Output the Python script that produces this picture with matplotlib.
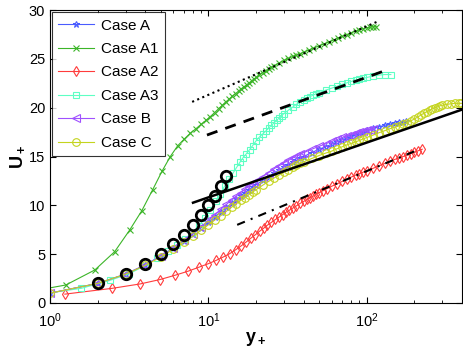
import numpy as np
import matplotlib
matplotlib.use('Agg')
import matplotlib.pyplot as plt

plt.rcParams['font.family'] = ['Liberation Sans', 'DejaVu Sans']
plt.rcParams['mathtext.fontset'] = 'custom'
plt.rcParams['mathtext.rm'] = 'Liberation Sans'
plt.rcParams['mathtext.bf'] = 'Liberation Sans:bold'

# ---- data ----
yA = [1, 2, 3, 4, 5, 6, 7, 8, 9, 10, 11, 12, 13, 14, 15, 16, 17, 18, 19, 20,
      22, 24, 26, 28, 30, 32, 34, 36, 38, 40,
      45, 50, 55, 60, 65, 70, 75, 80, 85, 90, 95, 100,
      110, 120, 130, 140, 150, 160, 170, 178]
uA = [1.0, 2.0, 2.95, 3.9, 4.8, 5.6, 6.35, 7.05, 7.7, 8.3, 8.85, 9.35, 9.8, 10.2, 10.6, 10.95, 11.3, 11.6, 11.85, 12.1,
      12.55, 12.95, 13.3, 13.6, 13.9, 14.15, 14.4, 14.6, 14.8, 15.0,
      15.4, 15.75, 16.0, 16.25, 16.5, 16.7, 16.9, 17.1, 17.25, 17.4, 17.55, 17.7,
      17.9, 18.05, 18.2, 18.3, 18.4, 18.5, 18.55, 18.6]

yA1 = [0.63, 1.26, 1.92, 2.56, 3.18, 3.8, 4.45, 5.1, 5.75, 6.4, 7.05, 7.7, 8.35, 9.0, 9.65,
       10.3, 10.95, 11.6, 12.25, 12.9, 13.55, 14.2, 14.85, 15.5, 16.15, 16.8, 17.45, 18.1, 18.75, 19.4, 20.05,
       21, 22, 23, 24, 25, 26, 28, 30, 32, 34, 36, 38, 40, 43, 46, 50, 54, 58, 62, 66, 70,
       75, 80, 85, 90, 95, 100, 105, 110, 115]
uA1 = [0.95, 1.84, 3.38, 5.25, 7.45, 9.45, 11.6, 13.5, 15.0, 16.1, 16.8, 17.4, 17.85, 18.3, 18.7,
       19.1, 19.5, 19.9, 20.25, 20.6, 20.9, 21.2, 21.45, 21.7, 21.95, 22.15, 22.35, 22.55, 22.75, 22.95, 23.1,
       23.4, 23.6, 23.8, 24.0, 24.15, 24.3, 24.6, 24.85, 25.05, 25.25, 25.4, 25.55, 25.7, 25.9, 26.1, 26.35,
       26.55, 26.75, 26.95, 27.15, 27.3, 27.5, 27.7, 27.85, 28.0, 28.1, 28.2, 28.25, 28.3, 28.3]

yA2 = [1.24, 2.48, 3.72, 4.96, 6.2, 7.44, 8.68, 9.92, 11.16, 12.4, 13.64, 14.88, 16.12, 17.36, 18.6,
       19.84, 21.08, 22.32, 23.5, 25, 26.5, 28, 29.5, 31, 32.5, 34, 36, 38, 40, 42, 44, 46, 48, 50, 53,
       56, 60, 65, 70, 75, 80, 85, 90, 95, 100, 110, 120, 130, 140, 150, 160, 170, 180, 190, 200, 212, 224]
uA2 = [0.9, 1.5, 1.95, 2.4, 2.85, 3.25, 3.65, 4.0, 4.35, 4.7, 5.05, 5.45, 5.85, 6.25, 6.65,
       7.0, 7.35, 7.65, 7.95, 8.25, 8.55, 8.8, 9.05, 9.3, 9.5, 9.7, 9.95, 10.2, 10.4, 10.6, 10.8, 10.95,
       11.15, 11.3, 11.5, 11.7, 11.95, 12.2, 12.45, 12.7, 12.9, 13.1, 13.25, 13.4, 13.55, 13.8, 14.05,
       14.3, 14.5, 14.7, 14.85, 15.0, 15.15, 15.3, 15.45, 15.6, 15.75]

yA3 = [0.79, 1.58, 2.38, 3.17, 3.96, 4.75, 5.55, 6.34, 7.13, 7.92, 8.72, 9.5, 10.3, 11.1, 11.9,
       12.7, 13.5, 14.3, 15.1, 15.8, 16.6, 17.4, 18.2, 19, 20, 21, 22, 23, 24, 25, 26, 27, 28, 29, 30,
       32, 34, 36, 38, 40, 42, 44, 46, 48, 50, 55, 60, 65, 70, 75, 80, 85, 90, 95, 100,
       110, 120, 130, 142]
uA3 = [0.8, 1.5, 2.3, 3.0, 3.8, 4.6, 5.3, 5.95, 6.6, 7.2, 7.9, 8.7, 9.5, 10.4, 11.2,
       12.0, 12.7, 13.3, 13.9, 14.4, 14.9, 15.3, 15.7, 16.1, 16.6, 17.0, 17.3, 17.6, 17.9, 18.2, 18.45,
       18.7, 18.95, 19.2, 19.4, 19.75, 20.05, 20.35, 20.6, 20.8, 21.0, 21.15, 21.3, 21.45, 21.55,
       21.8, 22.0, 22.2, 22.4, 22.55, 22.7, 22.8, 22.9, 23.0, 23.1, 23.25, 23.35, 23.4, 23.4]

yB = [1, 2, 3, 4, 5, 6, 7, 8, 9, 10, 11, 12, 13, 14, 15, 16, 17, 18, 19, 20,
      22, 24, 26, 28, 30, 32, 34, 36, 38, 40,
      45, 50, 55, 60, 65, 70, 75, 80, 85, 90, 95, 100, 105, 110]
uB = [1.0, 2.0, 2.95, 3.9, 4.8, 5.6, 6.4, 7.1, 7.8, 8.45, 9.05, 9.6, 10.1, 10.55, 10.95, 11.3, 11.65, 11.95, 12.25, 12.5,
      12.95, 13.35, 13.75, 14.05, 14.35, 14.6, 14.85, 15.05, 15.25, 15.4,
      15.75, 16.05, 16.3, 16.55, 16.75, 16.95, 17.1, 17.25, 17.4, 17.5, 17.6, 17.7, 17.75, 17.8]

yC = [1, 2, 3, 4, 5, 6, 7, 8, 9, 10, 11, 12, 13, 14, 15, 16, 17, 18, 19, 20,
      22, 24, 26, 28, 30, 32, 34, 36, 38, 40,
      45, 50, 55, 60, 65, 70, 75, 80, 85, 90, 95, 100,
      110, 120, 130, 140, 150, 160, 170, 180, 190, 200, 210, 220, 230, 240, 250, 260, 270, 280,
      290, 300, 320, 340, 360, 380, 396]
uC = [1.0, 2.0, 2.95, 3.85, 4.7, 5.5, 6.2, 6.85, 7.45, 8.0, 8.5, 8.95, 9.4, 9.8, 10.15, 10.5, 10.8, 11.1, 11.35, 11.6,
      12.05, 12.45, 12.8, 13.1, 13.4, 13.65, 13.9, 14.1, 14.3, 14.45,
      14.8, 15.1, 15.35, 15.55, 15.8, 16.0, 16.2, 16.35, 16.5, 16.65, 16.8, 16.95,
      17.2, 17.45, 17.65, 17.85, 18.0, 18.15, 18.3, 18.45, 18.65, 18.85, 19.05, 19.25, 19.45, 19.6, 19.75,
      19.9, 20.0, 20.1, 20.2, 20.25, 20.35, 20.4, 20.45, 20.45, 20.45]

# viscous sublayer points U+ = y+
y_visc = [2, 3, 4, 5, 6, 7, 8, 9, 10, 11, 12, 13]
u_visc = [2, 3, 4, 5, 6, 7, 8, 9, 10, 11, 12, 13]

# reference log-law lines (end points)
y_log = [8, 400]
u_log = [10.27, 19.81]
y_dot = [7.9, 116]
u_dot = [20.6, 28.8]
y_dash = [9.8, 133]
u_dash = [17.2, 23.85]
y_dashdot = [15.2, 212]
u_dashdot = [8.0, 15.7]

cases = [
    ('Case A', yA, uA, '#4a5cff', '*', 5),
    ('Case A1', yA1, uA1, '#3cb528', 'x', 4.5),
    ('Case A2', yA2, uA2, '#ff3b3b', 'd', 5.5),
    ('Case A3', yA3, uA3, '#5effc4', 's', 5),
    ('Case B', yB, uB, '#a050ff', '<', 5.5),
    ('Case C', yC, uC, '#c4d41e', 'o', 5.5),
]

fig = plt.figure(figsize=(4.63, 3.49), dpi=100)
ax = fig.add_axes([0.108, 0.132, 0.89, 0.839])

for name, y, u, col, mk, ms in cases:
    ax.plot(y, u, color=col, marker=mk, markersize=ms, linewidth=0.8,
            markerfacecolor='none', markeredgewidth=0.8, label=name)

ax.plot(y_visc, u_visc, 'o', color='k', markersize=7.5, markerfacecolor='none',
        markeredgewidth=2, zorder=5)
ax.plot(y_log, u_log, '-', color='k', linewidth=1.8, zorder=4)
ax.plot(y_dot, u_dot, ':', color='k', linewidth=1.5, zorder=4)
ax.plot(y_dash, u_dash, '--', color='k', linewidth=2, dashes=(4, 3), zorder=4)
ax.plot(y_dashdot, u_dashdot, '-.', color='k', linewidth=1.5, dashes=(4, 3, 1, 3), zorder=4)

ax.set_xscale('log')
ax.set_xlim(1, 400)
ax.set_ylim(0, 30)
ax.set_yticks([0, 5, 10, 15, 20, 25, 30])
ax.tick_params(which='both', direction='in', top=True, right=True, labelsize=10.5)
ax.tick_params(axis='x', which='major', pad=6)
ax.tick_params(which='major', length=4)
ax.tick_params(which='minor', length=2.5)
ax.set_xlabel(r'$\mathbf{y_+}$', fontsize=13, labelpad=0)
ax.set_ylabel(r'$\mathbf{U_+}$', fontsize=13, labelpad=2)

leg = ax.legend(loc='upper left', fontsize=11, frameon=True, fancybox=False,
                edgecolor='k', borderaxespad=0.15, handlelength=2.3,
                labelspacing=0.62, borderpad=0.4, handletextpad=0.5)
leg.get_frame().set_linewidth(0.8)

fig.savefig('out.png', dpi=100)
